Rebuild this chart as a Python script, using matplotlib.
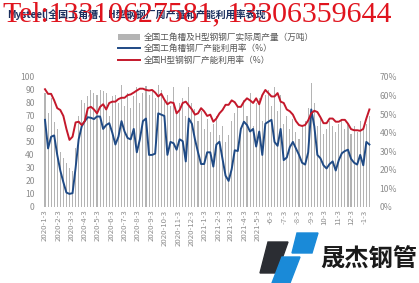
"""Mysteel chart: weekly output of section / H-beam mills and capacity utilisation."""

import pandas as pd
from matplotlib import pyplot as plt
from matplotlib.patches import Polygon

plt.rcParams['font.family'] = ['Noto Sans CJK SC', 'DejaVu Sans']

# weekly output of section + H-beam mills (10k t), left axis
output = [88, 72, 84, 65, 60, 42, 38, 34, 30, 28, 45,
          70, 82, 80, 85, 90, 88, 86, 90, 89, 88,
          70, 85, 86, 80, 94, 78, 88, 76, 85, 92,
          80, 88, 93, 86, 90, 84, 94, 90, 82, 86,
          78, 92, 72, 80, 84, 70, 92, 80, 75, 66,
          74, 60, 68, 58, 64, 70, 55, 62, 50, 55,
          66, 72, 78, 60, 82, 70, 88, 62, 80, 84,
          66, 86, 90, 78, 92, 74, 86, 64, 70, 60,
          68, 58, 52, 62, 66, 76, 95, 80, 62, 68,
          56, 60, 66, 62, 58, 64, 68, 60, 64, 56,
          62, 58, 66, 60, 64, 70]

# capacity utilisation of section-steel mills (%), right axis
util_section = [46.9, 31.5, 37.8, 38.5, 28.0, 19.6, 13.3, 7.7, 7.0, 7.4, 21.0,
                36.4, 43.4, 46.2, 48.3, 48.0, 47.3, 48.7, 48.7, 42.0, 44.1,
                45.1, 39.9, 33.6, 37.8, 46.2, 40.6, 37.1, 36.4, 42.0, 29.4,
                36.4, 46.2, 47.6, 28.0, 28.0, 28.7, 50.4, 49.7, 49.0, 28.0,
                35.0, 34.3, 30.8, 36.4, 35.4, 24.5, 47.6, 44.8, 36.4, 29.4,
                23.1, 23.1, 29.4, 29.4, 21.7, 33.6, 35.1, 25.9, 16.8, 14.0,
                20.3, 30.5, 30.1, 42.0, 45.9, 44.1, 40.6, 42.0, 32.5, 40.6,
                28.0, 44.8, 45.9, 46.9, 35.0, 32.9, 42.0, 25.2, 26.6, 32.2,
                35.0, 31.5, 28.0, 23.8, 22.8, 29.4, 52.5, 43.4, 28.0, 26.2,
                22.4, 20.7, 23.1, 24.5, 19.6, 25.2, 28.9, 30.1, 30.8, 25.9,
                23.8, 22.8, 28.0, 22.4, 35.0, 33.6]

# capacity utilisation of H-beam mills (%), right axis
util_hbeam = [63.4, 60.9, 60.9, 57.4, 53.2, 52.2, 49.0, 42.0, 36.1, 37.8, 45.5,
              45.9, 44.1, 46.2, 53.2, 53.9, 52.5, 50.4, 53.9, 55.3, 52.5,
              56.0, 56.7, 56.7, 58.1, 58.8, 58.8, 60.2, 60.6, 61.6, 62.7,
              63.7, 63.7, 63.0, 62.7, 63.0, 61.6, 59.5, 60.9, 57.8, 55.3,
              56.4, 56.0, 50.4, 52.2, 56.0, 56.7, 54.6, 52.5, 49.7, 50.4,
              53.2, 51.5, 49.0, 49.7, 45.9, 47.6, 50.4, 52.2, 55.0, 55.0,
              57.4, 56.4, 53.9, 53.9, 56.7, 58.5, 57.4, 56.0, 58.5, 55.3,
              60.2, 63.0, 61.3, 59.5, 59.5, 61.3, 56.7, 56.0, 52.5, 51.5,
              49.7, 46.2, 44.1, 43.6, 44.1, 46.6, 50.4, 51.8, 51.1, 48.3,
              45.1, 45.1, 47.6, 47.6, 45.9, 45.9, 46.9, 46.9, 44.8, 41.9,
              41.3, 41.3, 41.0, 42.0, 47.6, 52.5]

start = pd.Timestamp('2020-01-03')
tick_dates = pd.date_range('2020-01-01', periods=25, freq='MS') + pd.Timedelta(days=2)
tick_labels = ['2020-1-3', '2020-2-3', '2020-3-3', '2020-4-3', '2020-5-3', '2020-6-3',
               '2020-7-3', '2020-8-3', '2020-9-3', '2020-10-3', '2020-11-3', '2020-12-3',
               '2021-1-3', '2021-2-3', '2021-3-3', '2021-4-3', '2021-5-3',
               '-6-3', '-7-3', '-8-3', '-9-3', '10-3', '11-3', '12-3', '-1-3']

title = 'Mysteel|全国工角槽、H型钢钢厂周产量和产能利用率表现'
legend_labels = ['全国工角槽及H型钢钢厂实际周产量（万吨）',
                 '全国工角槽钢厂产能利用率（%）',
                 '全国H型钢钢厂产能利用率（%）']

grey_txt = '#8c8c8c'
blue = '#1f4a85'
red = '#c4182b'

fig = plt.figure(figsize=(4.19, 2.83), dpi=100)
ax = fig.add_axes([0.103, 0.269, 0.783, 0.459])
ax2 = ax.twinx()

x = list(range(len(output)))
bars = ax.bar(x, output, width=0.35, color='#b4b4b4', zorder=1)
line_b, = ax2.plot(x, util_section, color=blue, lw=1.4)
line_r, = ax2.plot(x, util_hbeam, color=red, lw=1.4)

ax.set_xlim(-0.6, len(output) - 0.4)
ax.set_ylim(0, 100)
ax.set_yticks(range(0, 101, 10))
ax2.set_ylim(0, 70)
ax2.set_yticks(range(0, 71, 10))
ax2.set_yticklabels([f'{v}%' for v in range(0, 71, 10)])

tick_pos = [(d - start).days / 7 for d in tick_dates]
ax.set_xticks(tick_pos)
ax.set_xticklabels(tick_labels, rotation=90, va='top')

for a in (ax, ax2):
    for s in a.spines.values():
        s.set_visible(False)
    a.tick_params(length=0, labelsize=5.6, colors=grey_txt, pad=2)
ax.tick_params(axis='y', labelsize=6.2, pad=6)
ax2.tick_params(axis='y', labelsize=6.2, pad=6)

fig.legend([bars, line_b, line_r], legend_labels, loc='upper left',
           bbox_to_anchor=(0.262, 0.91), frameon=False, fontsize=6.2,
           handlelength=2.6, handletextpad=0.4, labelspacing=0.25,
           labelcolor='#555555')

fig.text(0.018, 0.948, title, fontsize=7.2, fontweight='bold', color='#1b2f5e',
         va='center')
fig.text(0.008, 0.948, 'Tel:13310627581, 13306359644', fontsize=21.5,
         color='#e0141e', family='Liberation Serif', va='center')

# logo in the lower right corner
W, H = 419, 283
shapes = [([(268, 242), (288, 242), (277, 273), (260, 273)], '#2b2d33'),
          ([(297, 233), (318, 233), (312, 253), (292, 253)], '#1a8ad8'),
          ([(282, 257), (300, 257), (290, 283), (272, 283)], '#1a8ad8')]
for pts, col in shapes:
    fig.patches.append(Polygon([(px / W, 1 - py / H) for px, py in pts],
                               closed=True, color=col, transform=fig.transFigure))
fig.text(0.995, 1 - 260 / H, '晟杰钢管', fontsize=17.5, fontweight='bold',
         color='#1a1a1a', ha='right', va='center')

fig.savefig('out.png', dpi=100)
